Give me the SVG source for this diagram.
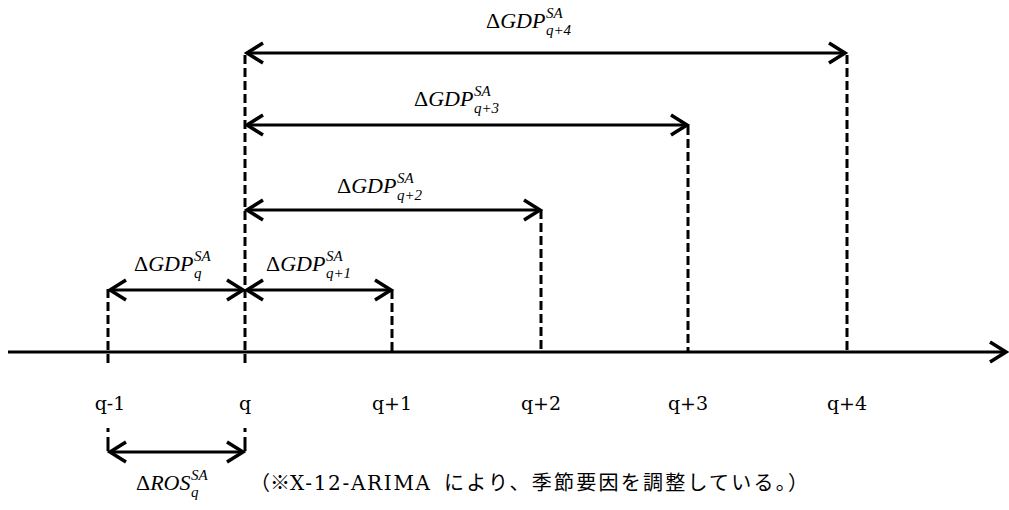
<svg xmlns="http://www.w3.org/2000/svg" width="1009" height="510" viewBox="0 0 1009 510">
<style>
.ln{stroke:#000;stroke-width:3;fill:none}
.dash{stroke:#000;stroke-width:3;fill:none;stroke-dasharray:9 4}
.m{font-family:"Liberation Serif","DejaVu Serif",serif;font-style:italic;font-size:22px;fill:#000}
.ms{font-family:"Liberation Serif","DejaVu Serif",serif;font-style:italic;font-size:15px;fill:#000}
.up{font-style:normal}
.t{font-family:"DejaVu Serif","Liberation Serif",serif;font-size:19px;fill:#000;text-anchor:middle}
.c{font-family:"DejaVu Serif","Noto Sans CJK JP",serif;font-size:20px;fill:#000}
.j{font-family:"Noto Sans CJK JP","Noto Sans CJK SC",sans-serif;font-size:20px;fill:#000}
</style>
<defs>
<marker id="ah" viewBox="-20 -13 24 26" refX="0" refY="0" markerWidth="24" markerHeight="26" markerUnits="userSpaceOnUse" orient="auto-start-reverse">
<path d="M-16,-10 L0,0 L-16,10" fill="none" stroke="#000" stroke-width="3.5" stroke-linejoin="miter"/>
</marker>
</defs>
<g id="connectors">
<line class="ln" x1="8" y1="352" x2="1006" y2="352" marker-end="url(#ah)"/>
<line class="dash" x1="108" y1="289" x2="108" y2="364"/>
<line class="dash" x1="245" y1="55" x2="245" y2="364"/>
<line class="dash" x1="392" y1="290" x2="392" y2="352"/>
<line class="dash" x1="541" y1="210" x2="541" y2="352"/>
<line class="dash" x1="688" y1="126" x2="688" y2="352"/>
<line class="dash" x1="847" y1="55" x2="847" y2="352"/>
<line class="ln" x1="247" y1="53" x2="845" y2="53" marker-start="url(#ah)" marker-end="url(#ah)"/>
<line class="ln" x1="247" y1="125" x2="687" y2="125" marker-start="url(#ah)" marker-end="url(#ah)"/>
<line class="ln" x1="247" y1="210" x2="540" y2="210" marker-start="url(#ah)" marker-end="url(#ah)"/>
<line class="ln" x1="110" y1="290" x2="243" y2="290" marker-start="url(#ah)" marker-end="url(#ah)"/>
<line class="ln" x1="247" y1="290" x2="391" y2="290" marker-start="url(#ah)" marker-end="url(#ah)"/>
<line class="dash" x1="108" y1="428" x2="108" y2="451" style="stroke-dasharray:4 5 14 4"/>
<line class="dash" x1="245" y1="428" x2="245" y2="451" style="stroke-dasharray:4 5 14 4"/>
<line class="ln" x1="110" y1="452" x2="243" y2="452" marker-start="url(#ah)" marker-end="url(#ah)"/>
</g>
<g id="label-q4">
<text class="m" x="486" y="28"><tspan class="up">Δ</tspan>GDP</text>
<text class="ms" x="546" y="18">SA</text>
<text class="ms" x="546" y="35">q+4</text>
</g>
<g id="label-q3">
<text class="m" x="414" y="106"><tspan class="up">Δ</tspan>GDP</text>
<text class="ms" x="474" y="96">SA</text>
<text class="ms" x="474" y="113">q+3</text>
</g>
<g id="label-q2">
<text class="m" x="337" y="193"><tspan class="up">Δ</tspan>GDP</text>
<text class="ms" x="397" y="183">SA</text>
<text class="ms" x="397" y="200">q+2</text>
</g>
<g id="label-q">
<text class="m" x="134" y="271"><tspan class="up">Δ</tspan>GDP</text>
<text class="ms" x="194" y="261">SA</text>
<text class="ms" x="194" y="278">q</text>
</g>
<g id="label-q1">
<text class="m" x="266" y="271"><tspan class="up">Δ</tspan>GDP</text>
<text class="ms" x="326" y="261">SA</text>
<text class="ms" x="326" y="278">q+1</text>
</g>
<g id="ticks">
<text class="t" x="110" y="410">q-1</text>
<text class="t" x="245" y="410">q</text>
<text class="t" x="392" y="410">q+1</text>
<text class="t" x="541" y="410">q+2</text>
<text class="t" x="688" y="410">q+3</text>
<text class="t" x="847" y="410">q+4</text>
</g>
<g id="caption">
<text class="m" x="136" y="490"><tspan class="up">Δ</tspan>ROS</text>
<text class="ms" x="191" y="480">SA</text>
<text class="ms" x="191" y="497">q</text>
<text class="c" x="250" y="490">（※<tspan textLength="140" lengthAdjust="spacing">X-12-ARIMA</tspan></text>
<text class="j" x="444" y="490" textLength="364" lengthAdjust="spacing">により、季節要因を調整している。）</text>
</g>
</svg>
